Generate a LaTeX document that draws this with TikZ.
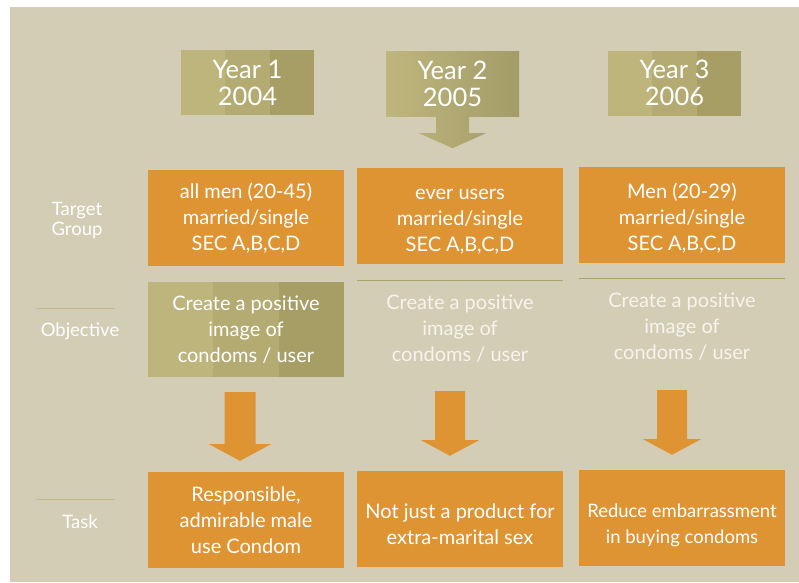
\documentclass[tikz,border=0pt]{standalone}
\usepackage{fontspec}
\setmainfont{Lato}
\usetikzlibrary{calc}
\definecolor{bg}{RGB}{211,205,181}
\definecolor{orng}{RGB}{222,148,51}
\definecolor{olA}{RGB}{190,181,124}
\definecolor{olB}{RGB}{180,171,114}
\definecolor{olC}{RGB}{167,158,102}
\definecolor{gradL}{RGB}{191,182,125}
\definecolor{gradR}{RGB}{163,156,104}
\definecolor{gradAL}{RGB}{184,175,120}
\definecolor{gradAR}{RGB}{170,162,109}
\definecolor{rulec}{RGB}{172,163,106}
\definecolor{lrule}{RGB}{196,187,134}
\definecolor{softw}{RGB}{246,244,236}
\begin{document}
\begin{tikzpicture}[x=1pt,y=-1pt,
  boxtxt/.style={inner sep=0pt,align=center,text=white,font=\fontsize{20}{26}\selectfont},
  cellbox/.style={boxtxt,minimum width=206pt,minimum height=96pt},
  orangebox/.style={cellbox,fill=orng},
  banded/.style={fill=olB,path picture={
     \fill[olA] (path picture bounding box.north west) rectangle ($(path picture bounding box.south west)!0.3333!(path picture bounding box.south east)$);
     \fill[olC] ($(path picture bounding box.north west)!0.6667!(path picture bounding box.north east)$) rectangle (path picture bounding box.south east);}},
  yearbox/.style={boxtxt,minimum width=133pt,minimum height=65pt,font=\fontsize{25.5}{27}\selectfont},
  sidelabel/.style={inner sep=0pt,align=center,text=white,font=\fontsize{18.5}{20}\selectfont},
  blockarrow/.style={fill=orng},
]
\useasboundingbox (0,0) rectangle (799,582);
\fill[bg] (10,7) rectangle (799,582);

% year headers
\node[yearbox,banded] (yr1) at (247.5,82.5) {Year 1\\2004};
\node[yearbox,left color=gradL,right color=gradR] (yr2) at (452.5,83.5) {Year 2\\2005};
\node[yearbox,banded] (yr3) at (674.5,83) {Year 3\\2006};
\shade[left color=gradAL,right color=gradAR]
  ($(yr2.south)+(-16.5,0)$) -- ++(33,0) -- ++(0,17) -- ++(17,0)
  -- ($(yr2.south)+(0,32)$) -- ($(yr2.south)+(-33.5,17)$) -- ++(17,0) -- cycle;

% side labels
\node[sidelabel] (lbtg) at (77,220) {Target\\Group};
\node[sidelabel] (lbob) at (80,331) {Objective};
\node[sidelabel] (lbtk) at (80,522) {Task};
\coordinate (r1a) at (36,308); \coordinate (r1b) at (115,308);
\coordinate (r2a) at (36,499); \coordinate (r2b) at (115,499);
\draw[lrule,line width=1pt] (r1a) -- (r1b);
\draw[lrule,line width=1pt] (r2a) -- (r2b);

% target group row
\node[orangebox,minimum width=196pt] (tg1) at (246,218) {all men (20-45)\\married/single\\SEC A,B,C,D};
\node[orangebox] (tg2) at (460,216) {\rule{0pt}{22pt}ever users\\married/single\\SEC A,B,C,D};
\node[orangebox] (tg3) at (682,215) {\rule{0pt}{22pt}Men (20-29)\\married/single\\SEC A,B,C,D};

% objective row
\node[cellbox,banded,minimum width=196pt,minimum height=95pt] (ob1) at (246,329.5) {Create a positive\\image of\\condoms / user};
\node[cellbox,minimum height=95pt,text=softw] (ob2) at (460,328.5) {Create a positive\\image of\\condoms / user};
\node[cellbox,minimum height=95pt,text=softw] (ob3) at (682,326.5) {Create a positive\\image of\\condoms / user};
\draw[rulec,line width=1pt] (ob2.north west) -- (ob2.north east);
\draw[rulec,line width=1pt] (ob3.north west) -- (ob3.north east);

% task row
\node[orangebox,minimum width=196pt] (tk1) at (246,520) {Responsible,\\admirable male\\use Condom};
\node[orangebox] (tk2) at (460,519) {\rule{0pt}{26pt}Not just a product for\\extra-marital sex};
\node[orangebox,font=\fontsize{18.5}{26}\selectfont] (tk3) at (682,518) {\rule{0pt}{28pt}Reduce embarrassment\\in buying condoms};

% block arrows objective -> task
\fill[blockarrow] ($(ob1.south)+(-21.5,15)$) -- ++(31,0) -- ++(0,52) -- ++(15.5,0)
  -- ($(tk1.north)+(-6,-11)$) -- ($(ob1.south)+(-37,67)$) -- ++(15.5,0) -- cycle;
\fill[blockarrow] ($(ob2.south)+(-25,15)$) -- ++(30,0) -- ++(0,49) -- ++(14,0)
  -- ($(tk2.north)+(-10,-15)$) -- ($(ob2.south)+(-39,64)$) -- ++(14,0) -- cycle;
\fill[blockarrow] ($(ob3.south)+(-25,16)$) -- ++(30,0) -- ++(0,49) -- ++(14,0)
  -- ($(tk3.north)+(-10,-15)$) -- ($(ob3.south)+(-39,65)$) -- ++(14,0) -- cycle;
\end{tikzpicture}
\end{document}
